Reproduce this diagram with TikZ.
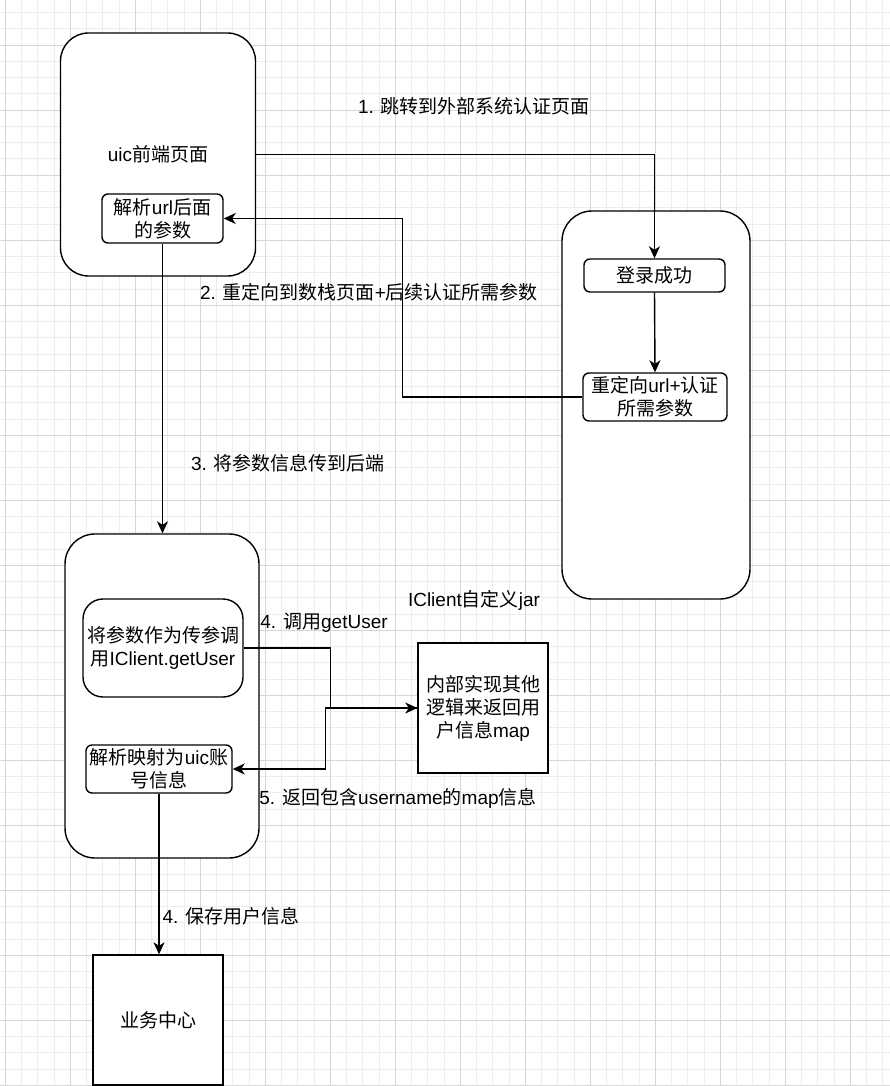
\documentclass[tikz,border=0pt]{standalone}
\usepackage{fontspec}
\setmainfont{Noto Sans CJK SC}
\newfontfamily\lat{Liberation Sans}
\newcommand{\h}[1]{{\lat #1}}
\usetikzlibrary{arrows.meta,calc}
\begin{document}
\begin{tikzpicture}[x=1pt,y=-1pt,
  every node/.style={font=\fontsize{19}{23}\selectfont, align=center, inner sep=0pt},
  bigbox/.style={draw, line width=1.4pt, fill=white, rounded corners=28pt},
  smallbox/.style={draw, line width=1.4pt, fill=white, rounded corners=6pt},
  plainbox/.style={draw, line width=1.4pt, fill=white},
  conn/.style={line width=1.4pt, -{Stealth[length=12pt,width=11pt,inset=3.5pt]}},
  lbl/.style={fill=none}]
\useasboundingbox (0,0) rectangle (890,1086);
\fill[white] (0,0) rectangle (890,1086);
% grid
\foreach \i in {0,...,54} {
  \draw[line width=0.5pt, black!7] ({5+16.25*\i},0) -- ({5+16.25*\i},1086);
}
\foreach \i in {0,...,67} {
  \draw[line width=0.5pt, black!7] (0,{-20+16.25*\i}) -- (890,{-20+16.25*\i});
}
\foreach \i in {0,...,13} {
  \draw[line width=0.6pt, black!16] ({5+65*\i},0) -- ({5+65*\i},1086);
}
\foreach \i in {0,...,17} {
  \draw[line width=0.6pt, black!16] (0,{-20+65*\i}) -- (890,{-20+65*\i});
}
% boxes
\node[bigbox, minimum width=195pt, minimum height=243pt] (A) at (158,154.5) {\h{uic}前端页面};
\node[smallbox, minimum width=121pt, minimum height=49pt] (pa) at (162.5,218.5) {解析\h{url}后面\\的参数};
\node[bigbox, rounded corners=30pt, minimum width=188pt, minimum height=388pt] (R) at (656,405) {};
\node[smallbox, minimum width=141pt, minimum height=33pt] (login) at (654.5,275.5) {登录成功};
\node[smallbox, minimum width=144pt, minimum height=48pt] (redir) at (655,397) {重定向\h{url+}认证\\所需参数};
\node[bigbox, rounded corners=30pt, minimum width=194pt, minimum height=324pt] (C) at (162,696) {};
\node[smallbox, rounded corners=20pt, minimum width=160pt, minimum height=98pt] (call) at (163,648) {将参数作为传参调\\用\h{IClient.getUser}};
\node[smallbox, minimum width=146pt, minimum height=48pt] (parse) at (159,769) {解析映射为\h{uic}账\\号信息};
\node[plainbox, minimum width=130pt, minimum height=130pt] (impl) at (483,708) {内部实现其他\\逻辑来返回用\\户信息\h{map}};
\node[plainbox, minimum width=130pt, minimum height=130pt] (biz) at (158,1020) {业务中心};
% connectors
\draw[conn] (A.east) -| (login.north);
\draw[conn] (login.south) -- (redir.north);
\draw[conn] (redir.west) -- ++(-180,0) |- (pa.east);
\draw[conn] (pa.south) -- (pa.south |- C.north);
\draw[conn] (call.east) -- ++(87,0) |- (impl.west);
\draw[conn] (impl.west) -- ++(-92,0) |- (parse.east);
\draw[conn] (parse.south) -- (parse.south |- biz.north);
% labels
\node[lbl] (l1) at (474,106) {\h{1. }跳转到外部系统认证页面};
\node[lbl] (l2) at (369,292) {\h{2. }重定向到数栈页面\h{+}后续认证所需参数};
\node[lbl] (l3) at (288,463) {\h{3. }将参数信息传到后端};
\node[lbl] (l4) at (324,623) {\h{4. }调用\h{getUser}};
\node[lbl] (jar) at (474,600) {\h{IClient}自定义\h{jar}};
\node[lbl] (l5) at (398,798) {\h{5. }返回包含\h{username}的\h{map}信息};
\node[lbl] (l6) at (231,916) {\h{4. }保存用户信息};
\end{tikzpicture}
\end{document}
